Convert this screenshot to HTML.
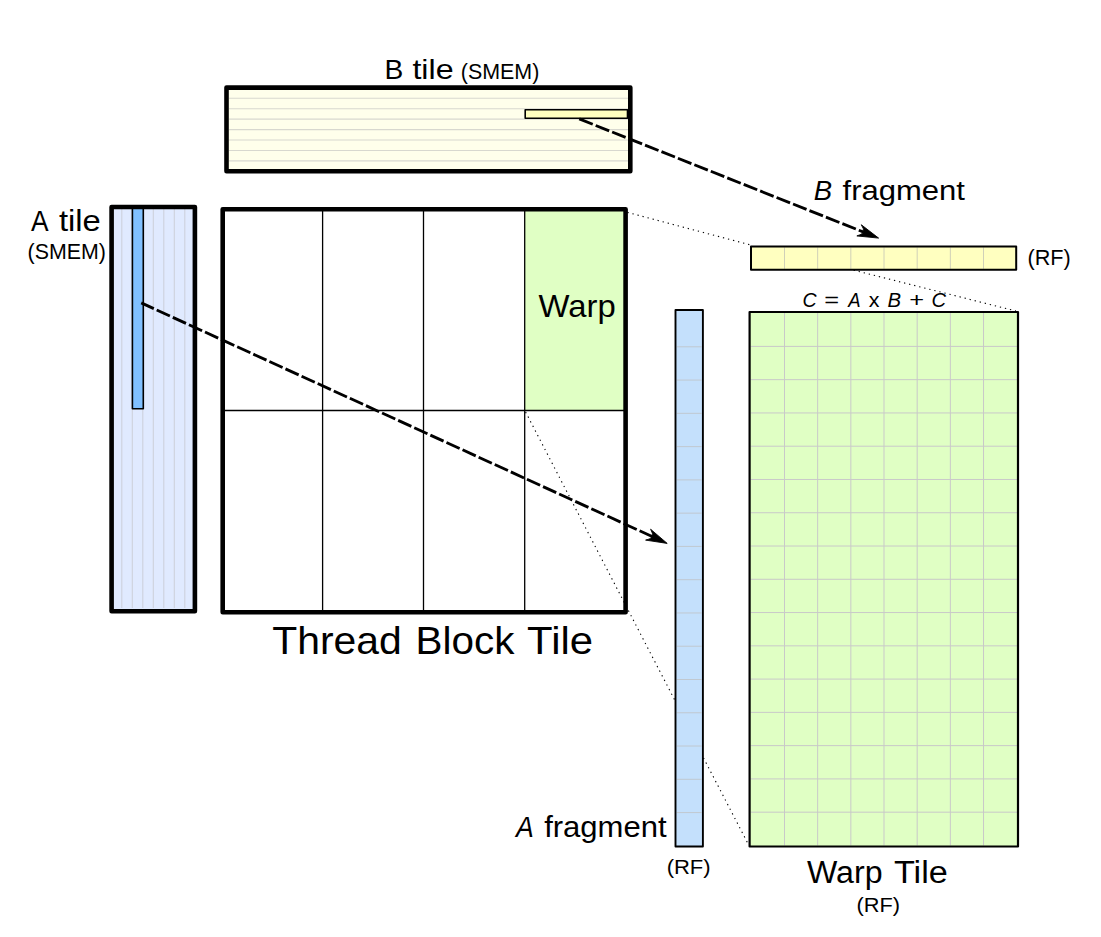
<!DOCTYPE html><html><head><meta charset="utf-8"><style>html,body{margin:0;padding:0;background:#fff;overflow:hidden}svg{display:block}text{font-family:"Liberation Sans",sans-serif;fill:#000}</style></head><body>
<svg width="1101" height="937" viewBox="0 0 1101 937">
<rect x="226.5" y="87.6" width="403.8" height="83.7" fill="#ffffeb"/>
<line x1="229" y1="98.3" x2="628" y2="98.3" stroke="#d8d8cf" stroke-width="1.1"/>
<line x1="229" y1="108.73" x2="628" y2="108.73" stroke="#d8d8cf" stroke-width="1.1"/>
<line x1="229" y1="119.16" x2="628" y2="119.16" stroke="#d8d8cf" stroke-width="1.1"/>
<line x1="229" y1="129.59" x2="628" y2="129.59" stroke="#d8d8cf" stroke-width="1.1"/>
<line x1="229" y1="140.02" x2="628" y2="140.02" stroke="#d8d8cf" stroke-width="1.1"/>
<line x1="229" y1="150.45" x2="628" y2="150.45" stroke="#d8d8cf" stroke-width="1.1"/>
<line x1="229" y1="160.88" x2="628" y2="160.88" stroke="#d8d8cf" stroke-width="1.1"/>
<rect x="525.2" y="109.8" width="102.3" height="8.5" fill="#ffffc0" stroke="#000" stroke-width="1.6" stroke-linejoin="round"/>
<rect x="226.5" y="87.6" width="403.8" height="83.7" fill="none" stroke="#000" stroke-width="4.6" stroke-linejoin="round"/>
<rect x="111.6" y="207" width="83.3" height="404.3" fill="#e0eaff"/>
<line x1="121.8" y1="209" x2="121.8" y2="608" stroke="#cdd1dc" stroke-width="1.1"/>
<line x1="132.3" y1="209" x2="132.3" y2="608" stroke="#cdd1dc" stroke-width="1.1"/>
<line x1="142.8" y1="209" x2="142.8" y2="608" stroke="#cdd1dc" stroke-width="1.1"/>
<line x1="153.3" y1="209" x2="153.3" y2="608" stroke="#cdd1dc" stroke-width="1.1"/>
<line x1="163.8" y1="209" x2="163.8" y2="608" stroke="#cdd1dc" stroke-width="1.1"/>
<line x1="174.3" y1="209" x2="174.3" y2="608" stroke="#cdd1dc" stroke-width="1.1"/>
<line x1="184.8" y1="209" x2="184.8" y2="608" stroke="#cdd1dc" stroke-width="1.1"/>
<rect x="132.4" y="207" width="10.9" height="201.8" fill="#80c0ff" stroke="#000" stroke-width="1.6" stroke-linejoin="round"/>
<rect x="111.6" y="207" width="83.3" height="404.3" fill="none" stroke="#000" stroke-width="4.6" stroke-linejoin="round"/>
<rect x="524.7" y="209.3" width="100.9" height="201.2" fill="#e0ffc4"/>
<line x1="322.6" y1="209.3" x2="322.6" y2="612.2" stroke="#000" stroke-width="1.3"/>
<line x1="423.5" y1="209.3" x2="423.5" y2="612.2" stroke="#000" stroke-width="1.3"/>
<line x1="524.7" y1="209.3" x2="524.7" y2="612.2" stroke="#000" stroke-width="1.3"/>
<line x1="222.7" y1="410.5" x2="625.6" y2="410.5" stroke="#000" stroke-width="1.3"/>
<rect x="222.7" y="209.3" width="402.9" height="402.9" fill="none" stroke="#000" stroke-width="4.6" stroke-linejoin="round"/>
<rect x="751" y="246.4" width="265.2" height="23.4" fill="#ffffc0"/>
<line x1="784.5" y1="247.4" x2="784.5" y2="268.8" stroke="#d0d0b8" stroke-width="1"/>
<line x1="817.67" y1="247.4" x2="817.67" y2="268.8" stroke="#d0d0b8" stroke-width="1"/>
<line x1="850.84" y1="247.4" x2="850.84" y2="268.8" stroke="#d0d0b8" stroke-width="1"/>
<line x1="884.01" y1="247.4" x2="884.01" y2="268.8" stroke="#d0d0b8" stroke-width="1"/>
<line x1="917.18" y1="247.4" x2="917.18" y2="268.8" stroke="#d0d0b8" stroke-width="1"/>
<line x1="950.35" y1="247.4" x2="950.35" y2="268.8" stroke="#d0d0b8" stroke-width="1"/>
<line x1="983.52" y1="247.4" x2="983.52" y2="268.8" stroke="#d0d0b8" stroke-width="1"/>
<rect x="751" y="246.4" width="265.2" height="23.4" fill="none" stroke="#000" stroke-width="2" stroke-linejoin="round"/>
<rect x="749.6" y="312" width="268.4" height="534.5" fill="#e0ffc4"/>
<line x1="784.5" y1="313" x2="784.5" y2="845.5" stroke="#c9c9c9" stroke-width="1"/>
<line x1="817.67" y1="313" x2="817.67" y2="845.5" stroke="#c9c9c9" stroke-width="1"/>
<line x1="850.84" y1="313" x2="850.84" y2="845.5" stroke="#c9c9c9" stroke-width="1"/>
<line x1="884.01" y1="313" x2="884.01" y2="845.5" stroke="#c9c9c9" stroke-width="1"/>
<line x1="917.18" y1="313" x2="917.18" y2="845.5" stroke="#c9c9c9" stroke-width="1"/>
<line x1="950.35" y1="313" x2="950.35" y2="845.5" stroke="#c9c9c9" stroke-width="1"/>
<line x1="983.52" y1="313" x2="983.52" y2="845.5" stroke="#c9c9c9" stroke-width="1"/>
<line x1="750.6" y1="346.4" x2="1017" y2="346.4" stroke="#c9c9c9" stroke-width="1"/>
<line x1="750.6" y1="379.67" x2="1017" y2="379.67" stroke="#c9c9c9" stroke-width="1"/>
<line x1="750.6" y1="412.94" x2="1017" y2="412.94" stroke="#c9c9c9" stroke-width="1"/>
<line x1="750.6" y1="446.21" x2="1017" y2="446.21" stroke="#c9c9c9" stroke-width="1"/>
<line x1="750.6" y1="479.48" x2="1017" y2="479.48" stroke="#c9c9c9" stroke-width="1"/>
<line x1="750.6" y1="512.75" x2="1017" y2="512.75" stroke="#c9c9c9" stroke-width="1"/>
<line x1="750.6" y1="546.02" x2="1017" y2="546.02" stroke="#c9c9c9" stroke-width="1"/>
<line x1="750.6" y1="579.29" x2="1017" y2="579.29" stroke="#c9c9c9" stroke-width="1"/>
<line x1="750.6" y1="612.56" x2="1017" y2="612.56" stroke="#c9c9c9" stroke-width="1"/>
<line x1="750.6" y1="645.83" x2="1017" y2="645.83" stroke="#c9c9c9" stroke-width="1"/>
<line x1="750.6" y1="679.1" x2="1017" y2="679.1" stroke="#c9c9c9" stroke-width="1"/>
<line x1="750.6" y1="712.37" x2="1017" y2="712.37" stroke="#c9c9c9" stroke-width="1"/>
<line x1="750.6" y1="745.64" x2="1017" y2="745.64" stroke="#c9c9c9" stroke-width="1"/>
<line x1="750.6" y1="778.91" x2="1017" y2="778.91" stroke="#c9c9c9" stroke-width="1"/>
<line x1="750.6" y1="812.18" x2="1017" y2="812.18" stroke="#c9c9c9" stroke-width="1"/>
<rect x="749.6" y="312" width="268.4" height="534.5" fill="none" stroke="#000" stroke-width="2.2" stroke-linejoin="round"/>
<rect x="675.5" y="310" width="27.4" height="536.5" fill="#c4e0fc"/>
<line x1="676.8" y1="346.8" x2="701.6" y2="346.8" stroke="#c0c8d0" stroke-width="1"/>
<line x1="676.8" y1="380.07" x2="701.6" y2="380.07" stroke="#c0c8d0" stroke-width="1"/>
<line x1="676.8" y1="413.34" x2="701.6" y2="413.34" stroke="#c0c8d0" stroke-width="1"/>
<line x1="676.8" y1="446.61" x2="701.6" y2="446.61" stroke="#c0c8d0" stroke-width="1"/>
<line x1="676.8" y1="479.88" x2="701.6" y2="479.88" stroke="#c0c8d0" stroke-width="1"/>
<line x1="676.8" y1="513.15" x2="701.6" y2="513.15" stroke="#c0c8d0" stroke-width="1"/>
<line x1="676.8" y1="546.42" x2="701.6" y2="546.42" stroke="#c0c8d0" stroke-width="1"/>
<line x1="676.8" y1="579.69" x2="701.6" y2="579.69" stroke="#c0c8d0" stroke-width="1"/>
<line x1="676.8" y1="612.96" x2="701.6" y2="612.96" stroke="#c0c8d0" stroke-width="1"/>
<line x1="676.8" y1="646.23" x2="701.6" y2="646.23" stroke="#c0c8d0" stroke-width="1"/>
<line x1="676.8" y1="679.5" x2="701.6" y2="679.5" stroke="#c0c8d0" stroke-width="1"/>
<line x1="676.8" y1="712.77" x2="701.6" y2="712.77" stroke="#c0c8d0" stroke-width="1"/>
<line x1="676.8" y1="746.04" x2="701.6" y2="746.04" stroke="#c0c8d0" stroke-width="1"/>
<line x1="676.8" y1="779.31" x2="701.6" y2="779.31" stroke="#c0c8d0" stroke-width="1"/>
<line x1="676.8" y1="812.58" x2="701.6" y2="812.58" stroke="#c0c8d0" stroke-width="1"/>
<rect x="675.5" y="310" width="27.4" height="536.5" fill="none" stroke="#000" stroke-width="1.9" stroke-linejoin="round"/>
<line x1="627.4" y1="212.4" x2="753" y2="245.6" stroke="#000" stroke-width="1.1" stroke-dasharray="1.3 3.9" fill="none"/>
<line x1="525.6" y1="412" x2="675" y2="700.6" stroke="#000" stroke-width="1.1" stroke-dasharray="1.3 3.9" fill="none"/>
<line x1="853.6" y1="270.2" x2="1016" y2="311" stroke="#000" stroke-width="1.1" stroke-dasharray="1.3 3.9" fill="none"/>
<line x1="703.5" y1="757.9" x2="748.4" y2="844.4" stroke="#000" stroke-width="1.1" stroke-dasharray="1.3 3.9" fill="none"/>
<line x1="578.7" y1="118.7" x2="863.73" y2="232.18" stroke="#000" stroke-width="2.85" stroke-dasharray="14.5 3.2" stroke-dashoffset="17.1"/>
<path transform="translate(878.6 238.1) rotate(21.71)" d="M0,0 L-21,-6 Q-12,0 -21,6 Z" fill="#000" stroke="#000" stroke-width="0.8" stroke-linejoin="round"/>
<line x1="141.25" y1="302.9" x2="652.65" y2="536.75" stroke="#000" stroke-width="2.85" stroke-dasharray="14.5 3.2" stroke-dashoffset="18.4"/>
<path transform="translate(667.2 543.4) rotate(24.57)" d="M0,0 L-21,-6 Q-12,0 -21,6 Z" fill="#000" stroke="#000" stroke-width="0.8" stroke-linejoin="round"/>
<text transform="translate(384.47 78.7) scale(0.9902 1)" font-size="28.49">B</text>
<text transform="translate(412.42 78.7) scale(1.1314 1)" font-size="28.49">tile</text>
<text transform="translate(460.76 78.9) scale(0.9902 1)" font-size="21.66">(SMEM)</text>
<text transform="translate(31 231.1) scale(0.9026 1)" font-size="29.21">A</text>
<text transform="translate(58.92 231.1) scale(1.1217 1)" font-size="29.21">tile</text>
<text transform="translate(27.54 258.7) scale(1.0073 1)" font-size="21.22">(SMEM)</text>
<text transform="translate(538.6 317.1) scale(1.0222 1)" font-size="32.12">Warp</text>
<text transform="translate(272.22 653.7) scale(1.046 1)" font-size="39.1">Thread</text>
<text transform="translate(415.5 653.7) scale(1.034 1)" font-size="39.1">Block</text>
<text transform="translate(527.1 653.7) scale(1.0717 1)" font-size="39.1">Tile</text>
<text transform="translate(813.86 200.4) scale(0.9824 1)" font-size="28.05" font-style="italic">B</text>
<text transform="translate(842.52 200.4) scale(1.1066 1)" font-size="28.05">fragment</text>
<text transform="translate(1027.44 265.1) scale(1.0087 1)" font-size="21.44">(RF)</text>
<text transform="translate(802.44 307.1) scale(0.9571 1)" font-size="20.49" font-style="italic">C</text>
<text transform="translate(824.26 307.1) scale(1.24 1)" font-size="20.49">=</text>
<text transform="translate(848.2 307.1) scale(0.9018 1)" font-size="20.49" font-style="italic">A</text>
<text transform="translate(868.84 307.1) scale(1.0462 1)" font-size="20.49">x</text>
<text transform="translate(887.5 307.1) scale(0.992 1)" font-size="20.49" font-style="italic">B</text>
<text transform="translate(909.26 307.1) scale(1.24 1)" font-size="20.49">+</text>
<text transform="translate(931.41 307.1) scale(0.9857 1)" font-size="20.49" font-style="italic">C</text>
<text transform="translate(515.99 837.1) scale(0.9299 1)" font-size="28.63" font-style="italic">A</text>
<text transform="translate(544.13 837.1) scale(1.0844 1)" font-size="28.63">fragment</text>
<text transform="translate(666.65 874) scale(1.0824 1)" font-size="20.35">(RF)</text>
<text transform="translate(807 883.1) scale(0.9953 1)" font-size="32.27">Warp</text>
<text transform="translate(893.97 883.1) scale(1.0612 1)" font-size="32.27">Tile</text>
<text transform="translate(856.44 911.8) scale(1.0861 1)" font-size="20.06">(RF)</text>
</svg></body></html>
